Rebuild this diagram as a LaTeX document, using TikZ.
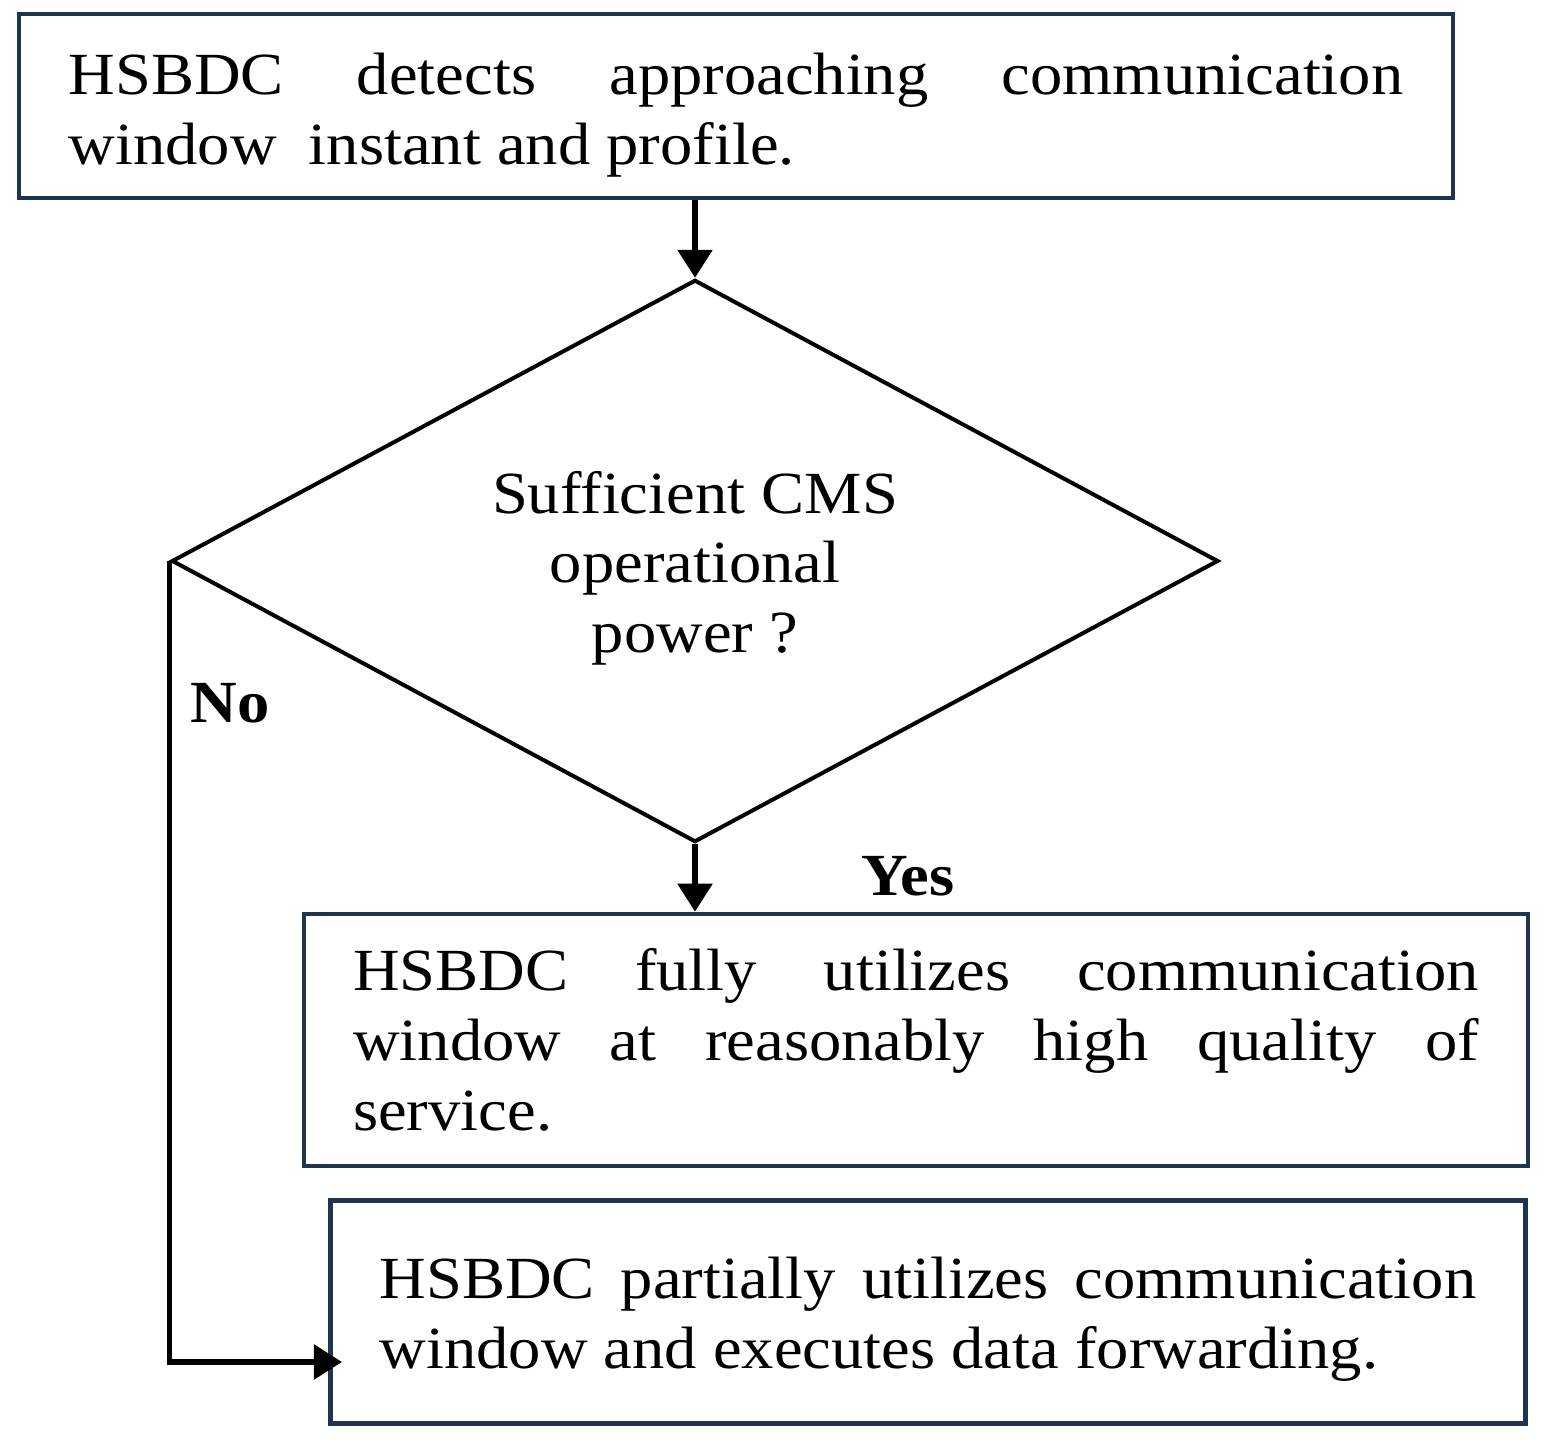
\documentclass[tikz,border=0pt]{standalone}
\usepackage{fontspec}
\setmainfont[FakeStretch=1.08]{Liberation Serif}
\usetikzlibrary{arrows.meta,shapes.geometric}
\definecolor{boxnavy}{RGB}{31,52,78}
\tikzset{
	stepbox/.style={draw=boxnavy, line width=0.045cm, inner sep=0pt},
	steptext/.style={inner sep=0pt, align=justify},
	decide/.style={diamond, draw=black, line width=0.04cm, inner sep=0pt},
	flow/.style={line width=0.055cm, -{Triangle[length=0.28cm,width=0.34cm]}},
	answer/.style={font=\fontsize{17}{20}\selectfont\bfseries}
}

\begin{document}
\begin{tikzpicture}[x=0.01cm, y=-0.01cm, every node/.style={font=\fontsize{17}{19.8}\selectfont}]
		%%%%% START %%%%%
		\useasboundingbox (0, 0) rectangle (1548, 1443);
		
		\node[stepbox, minimum width=14.33cm, minimum height=1.84cm,
			label={[steptext, text width=13.34cm, yshift=-0.09cm]center:HSBDC detects approaching communication\linebreak window\ \ instant and profile.}] (detect) at (736, 106) {};
		
		\node[decide, minimum width=10.46cm, minimum height=5.62cm,
			label={[align=center, yshift=-0.07cm]center:Sufficient CMS\\operational\\power ?}] (power) at (695, 561) {};
		
		\node[stepbox, minimum width=12.23cm, minimum height=2.52cm,
			label={[steptext, text width=11.25cm]center:HSBDC fully utilizes communication\linebreak window at reasonably high quality of\linebreak service.}] (full) at (916, 1040) {};
		
		\node[stepbox, minimum width=11.94cm, minimum height=2.23cm,
			label={[steptext, text width=10.96cm, yshift=-0.07cm]center:HSBDC partially utilizes communication\linebreak window and executes data forwarding.}] (partial) at (928, 1312) {};
		
		\coordinate (noend) at (342, 1362);
		
		\draw[flow] (power.north |- detect.south) -- (power.north);
		\draw[flow] (power.south) -- (power.south |- full.north);
		\draw[flow] (power.west) -- (power.west |- noend) -- (noend);
		
		\node[answer] (yes) at (908, 876) {Yes};
		\node[answer] (no) at (230, 703) {No};
		
		%%%%% END %%%%%
\end{tikzpicture}
\end{document}
